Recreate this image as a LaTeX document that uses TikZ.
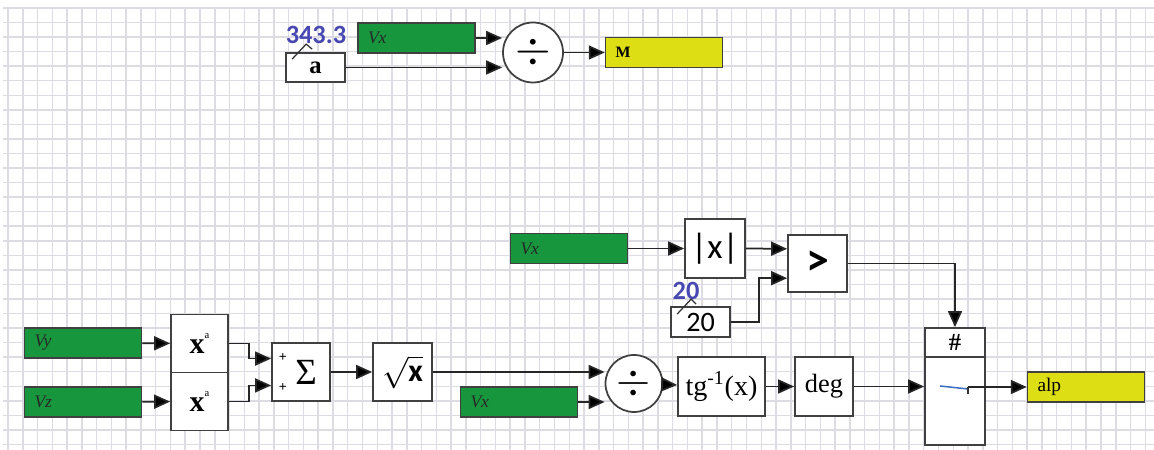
\documentclass[tikz,border=0pt]{standalone}
\usepackage{fontspec}
\setmainfont{Liberation Serif}
\setsansfont{Carlito}
\usetikzlibrary{arrows.meta,calc,positioning}
\definecolor{verde}{RGB}{24,150,62}
\definecolor{amarillo}{RGB}{222,222,20}
\definecolor{azul}{RGB}{72,72,178}
\definecolor{rejilla}{RGB}{220,220,226}

\begin{document}
\begin{tikzpicture}[x=0.2mm,y=-0.2mm,
    flecha/.style={draw=black!85,line width=0.35mm,-{Triangle[length=3.2mm,width=2.8mm,fill=black]}},
    linea/.style={draw=black!80,line width=0.35mm},
    bloque/.style={rectangle,draw=black!75,line width=0.35mm,fill=white,inner sep=0pt,minimum width=11.8mm,minimum height=11.8mm},
    entrada/.style={rectangle,draw=black!75,line width=0.3mm,fill=verde,minimum height=6mm,inner xsep=2mm,inner ysep=0pt,text width=19.4mm,align=left,font=\fontsize{10}{10}\selectfont\itshape,text=black!85},
    salida/.style={entrada,fill=amarillo,text=black},
    divide/.style={circle,draw=black!75,line width=0.35mm,fill=white,inner sep=0pt,minimum size=12mm},
    valor/.style={font=\sffamily\bfseries\fontsize{15}{15}\selectfont,text=azul},
    marca/.style={draw=black!80,line width=0.25mm}]
    % fondo y rejilla
    \useasboundingbox[fill=white] (0,0) rectangle (1154,450);
    \foreach \i in {0,...,78} {\draw[rejilla,line width=0.3mm] ({8+14.77*\i},8) -- ({8+14.77*\i},450);}
    \foreach \j in {0,...,30} {\draw[rejilla,line width=0.3mm] (3,{8+14.55*\j}) -- (1154,{8+14.55*\j});}

    % numero de Mach
    \node[bloque,minimum width=11.8mm,minimum height=5.8mm,font=\bfseries\fontsize{14}{14}\selectfont] at (315.5,67.5) (a) {a};
    \node[valor] at (316,35) (va) {343.3};
    \draw[marca] ([shift={(7,7)}]a.north west) -- ++(14,-15) -- ++(6,5);
    \node[entrada] at (416.5,38) (vx1) {Vx};
    \node[divide] at (533,52.5) (div1) {\scalebox{2.6}{$\div$}};
    \node[salida,font=\bfseries\fontsize{9}{9}\selectfont] at (664,52.5) (m) {M};
    \draw[flecha] (vx1.east) -- (vx1.east -| div1.west);
    \draw[flecha] (a.east) -- (a.east -| div1.west);
    \draw[flecha] (div1) -- (m);

    % comparacion
    \node[entrada] at (569,248.5) (vx2) {Vx};
    \node[bloque,minimum width=12mm,font=\sffamily\fontsize{20}{20}\selectfont] at (715,248.5) (abs) {|x|};
    \node[bloque,minimum height=11.4mm,font=\sffamily\bfseries\fontsize{26}{26}\selectfont] at (817.5,263.5) (gt) {>};
    \node[bloque,minimum height=6mm,font=\sffamily\fontsize{16}{16}\selectfont] at (700.5,322) (veinte) {20};
    \node[valor] at (686,291) (vveinte) {20};
    \draw[marca] ([shift={(7,8)}]veinte.north west) -- ++(14,-15) -- ++(5,5);
    \draw[flecha] (vx2) -- (abs);
    \draw[flecha] (abs.east) -- ($(gt.west)!0.5!(gt.north west)$);
    \draw[flecha] (veinte.east) -- ++(28,0) |- ($(gt.west)!0.5!(gt.south west)$);

    % modulo de la velocidad
    \node[entrada] at (83,343) (vy) {Vy};
    \node[entrada] at (83,402) (vz) {Vz};
    \node[bloque,minimum width=11.4mm,minimum height=11.6mm,font=\fontsize{17}{17}\selectfont] at (199.5,343.5) (sqy) {\textbf{x}\raisebox{1.1ex}{\fontsize{6}{6}\selectfont a}};
    \node[bloque,minimum width=11.4mm,minimum height=11.6mm,font=\fontsize{17}{17}\selectfont] at (199.5,401.5) (sqz) {\textbf{x}\raisebox{1.1ex}{\fontsize{6}{6}\selectfont a}};
    \node[bloque,minimum width=11.6mm,minimum height=11.6mm,font=\fontsize{21}{21}\selectfont] at (301,372) (sum) {\hspace*{2mm}Σ};
    \node[font=\bfseries\fontsize{8}{8}\selectfont] at (283,358) (masa) {+};
    \node[font=\bfseries\fontsize{8}{8}\selectfont] at (283,388) (masb) {+};
    \node[bloque,minimum height=11.6mm] at (402.5,372) (raiz) {\scalebox{1.8}{$\sqrt{\mbox{\sffamily\bfseries x}}$}};
    \draw[flecha] (vy) -- (sqy);
    \draw[flecha] (vz) -- (sqz);
    \draw[flecha] (sqy.east) -- ++(20,0) |- ($(sum.west)!0.45!(sum.north west)$);
    \draw[flecha] (sqz.east) -- ++(20,0) |- ($(sum.west)!0.45!(sum.south west)$);
    \draw[flecha] (sum) -- (raiz);

    % angulo
    \node[entrada] at (519,402) (vx3) {Vx};
    \node[divide,minimum size=11.4mm] at (634,383.5) (div2) {\scalebox{2.5}{$\div$}};
    \node[bloque,minimum width=17.4mm,font=\fontsize{16}{16}\selectfont] at (721.5,386.5) (atan) {tg\textsuperscript{-1}(x)};
    \node[bloque,minimum width=11.6mm,font=\fontsize{15}{15}\selectfont] at (824,386.5) (deg) {deg};
    \draw[flecha] (raiz.east) -- (raiz.east -| div2.west);
    \draw[flecha] (vx3.east) -- (vx3.east -| div2.west);
    \draw[flecha] (div2) -- (atan);
    \draw[flecha] (atan) -- (deg);

    % selector
    \node[bloque,minimum width=12mm,minimum height=5.8mm,font=\bfseries\fontsize{14}{14}\selectfont] at (955,342.5) (selh) {\#};
    \node[bloque,minimum width=12mm,minimum height=17.6mm] at (955,401) (selb) {};
    \coordinate (interior) at (968,387);
    \draw[azul!80!cyan,line width=0.3mm] (940,386) -- (968,389);
    \draw[marca] (interior) -- ++(0,7);
    \node[salida,font=\fontsize{11}{11}\selectfont] at (1086,387) (alp) {alp};
    \draw[flecha] (gt.east) -| (selh.north);
    \draw[flecha] (deg.east) -- (deg.east -| selb.west);
    \draw[flecha] (interior) -- (alp.west);
\end{tikzpicture}
\end{document}
